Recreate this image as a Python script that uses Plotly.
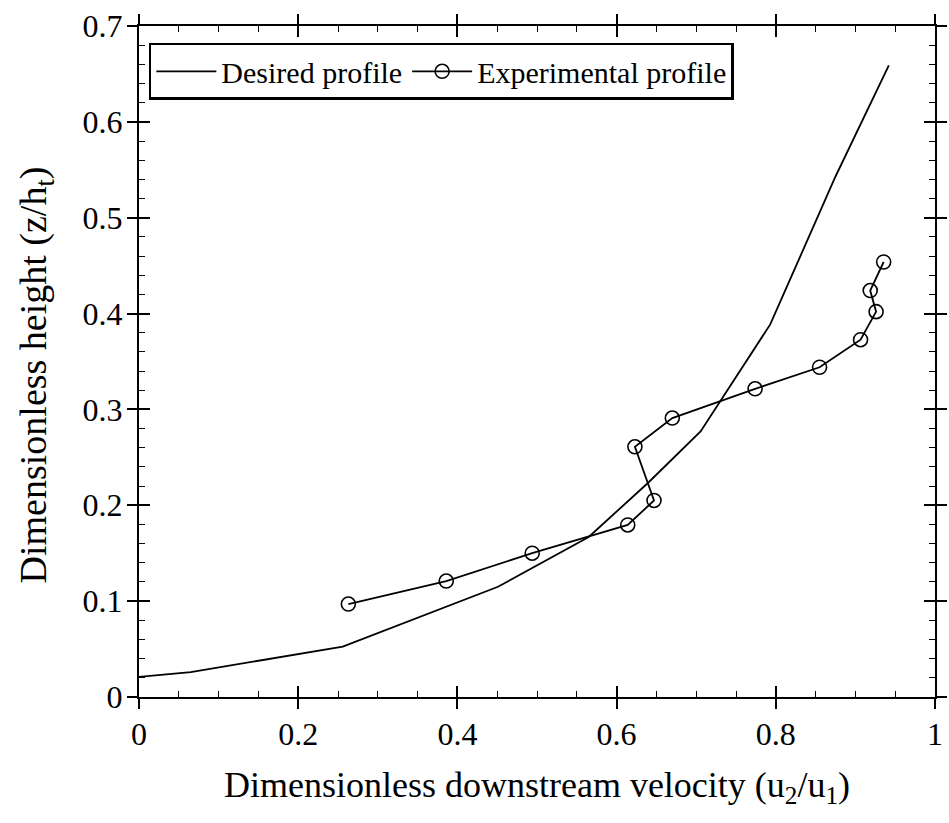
import plotly.graph_objects as go

# Desired profile (line)
desired_x = [0.0, 0.065, 0.256, 0.451, 0.565, 0.639, 0.7055, 0.793, 0.875, 0.942]
desired_y = [0.021, 0.026, 0.0525, 0.115, 0.167, 0.223, 0.277, 0.3887, 0.543, 0.659]

# Experimental profile (line + open circles)
exp_x = [0.263, 0.386, 0.494, 0.614, 0.647, 0.623, 0.670, 0.774, 0.855, 0.9065, 0.926, 0.9186, 0.9355]
exp_y = [0.097, 0.121, 0.150, 0.1795, 0.205, 0.261, 0.291, 0.3215, 0.344, 0.3727, 0.402, 0.424, 0.4538]

x_ticks = [0, 0.2, 0.4, 0.6, 0.8, 1]
x_ticklabels = ["0", "0.2", "0.4", "0.6", "0.8", "1"]
y_ticks = [0, 0.1, 0.2, 0.3, 0.4, 0.5, 0.6, 0.7]
y_ticklabels = ["0", "0.1", "0.2", "0.3", "0.4", "0.5", "0.6", "0.7"]

x_title = "Dimensionless downstream velocity (u<sub>2</sub>/u<sub>1</sub>)"
y_title = "Dimensionless height (z/h<sub>t</sub>)"

FONT = "Liberation Serif, Times New Roman, serif"

fig = go.Figure()
fig.add_trace(go.Scatter(
    x=desired_x, y=desired_y, mode="lines", name="Desired profile",
    line=dict(color="black", width=1.8),
))
fig.add_trace(go.Scatter(
    x=exp_x, y=exp_y, mode="lines+markers", name="Experimental profile",
    line=dict(color="black", width=1.8),
    marker=dict(symbol="circle-open", size=14, color="black", line=dict(width=1.6)),
))

XR = [0, 1]
YR = [0, 0.7]

fig.update_layout(
    width=949, height=823,
    margin=dict(l=139, r=6, t=26, b=126),
    paper_bgcolor="white", plot_bgcolor="white",
    font=dict(family=FONT, color="black", size=32),
    showlegend=True,
    legend=dict(
        x=0.0124, y=0.975, xanchor="left", yanchor="top",
        orientation="h",
        bgcolor="white", bordercolor="black", borderwidth=2.5,
        font=dict(family=FONT, size=30, color="black"),
        itemwidth=60,
        tracegroupgap=0,
    ),
    xaxis=dict(
        range=XR, tickvals=x_ticks, ticktext=x_ticklabels,
        ticks="inside", ticklen=11, tickwidth=1.8, tickcolor="black",
        showline=True, linecolor="black", linewidth=2, mirror="ticks",
        showgrid=False, zeroline=False,
        minor=dict(dtick=0.05, ticks="inside", ticklen=6, tickwidth=1.4, tickcolor="black", showgrid=False),
        tickfont=dict(family=FONT, size=32),
        ticklabelstandoff=8,
        title=dict(text=x_title, font=dict(family=FONT, size=36), standoff=20),
    ),
    yaxis=dict(
        range=YR, tickvals=y_ticks, ticktext=y_ticklabels,
        ticks="inside", ticklen=11, tickwidth=1.8, tickcolor="black",
        showline=True, linecolor="black", linewidth=2, mirror="ticks",
        showgrid=False, zeroline=False,
        minor=dict(dtick=0.02, ticks="inside", ticklen=6, tickwidth=1.4, tickcolor="black", showgrid=False),
        tickfont=dict(family=FONT, size=32),
        ticklabelstandoff=8,
    ),
    xaxis2=dict(
        overlaying="x", range=XR, tickvals=x_ticks, showticklabels=False,
        ticks="outside", ticklen=11, tickwidth=1.8, tickcolor="black",
        showline=False, mirror="ticks", showgrid=False, zeroline=False,
        anchor="y2",
    ),
    yaxis2=dict(
        overlaying="y", range=YR, tickvals=y_ticks, showticklabels=False,
        ticks="outside", ticklen=11, tickwidth=1.8, tickcolor="black",
        showline=False, mirror="ticks", showgrid=False, zeroline=False,
        anchor="x2",
    ),
    annotations=[dict(
        text=y_title, textangle=-90, showarrow=False,
        xref="paper", yref="paper",
        x=-0.130, y=0.48, xanchor="center", yanchor="middle",
        font=dict(family=FONT, size=38, color="black"),
    )],
)
fig.add_trace(go.Scatter(x=[], y=[], xaxis="x2", yaxis="y2", showlegend=False, hoverinfo="skip"))

fig.write_html("out.html")
